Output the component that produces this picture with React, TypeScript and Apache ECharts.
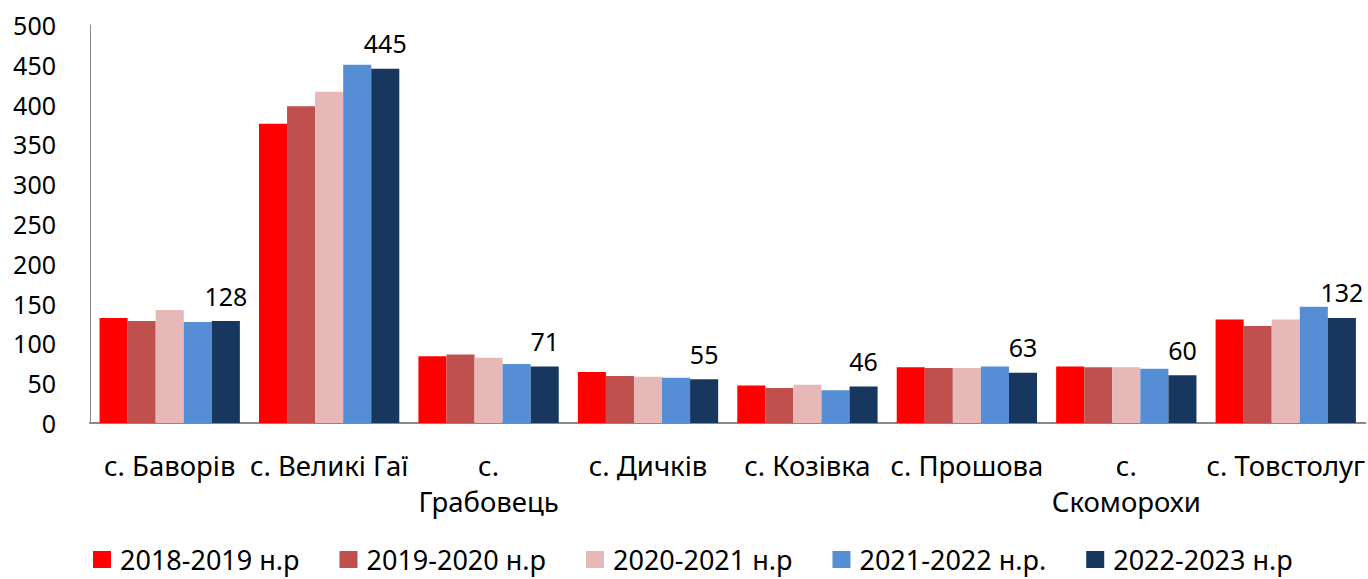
import React, { useEffect, useRef } from "react";
import * as echarts from "echarts";

const categories = [
  "с. Баворів",
  "с. Великі Гаї",
  "с.\nГрабовець",
  "с. Дичків",
  "с. Козівка",
  "с. Прошова",
  "с.\nСкоморохи",
  "с. Товстолуг",
];

const seriesNames = [
  "2018-2019 н.р",
  "2019-2020 н.р",
  "2020-2021 н.р",
  "2021-2022 н.р.",
  "2022-2023 н.р",
];

const y2018 = [132, 376, 84, 64, 47, 70, 71, 130];
const y2019 = [128, 398, 86, 59, 44, 69, 70, 122];
const y2020 = [142, 416, 82, 58, 48, 69, 70, 130];
const y2021 = [127, 450, 74, 57, 41, 71, 68, 146];
const y2022 = [128, 445, 71, 55, 46, 63, 60, 132];

const colors = ["#FF0000", "#C0504D", "#E6B9B8", "#558ED5", "#17375E"];

const yTicks = { min: 0, max: 500, interval: 50 };

const FONT = "'Noto Sans', sans-serif";

export default function App() {
  const ref = useRef<HTMLDivElement>(null);

  useEffect(() => {
    document.body.style.margin = "0";
    if (!ref.current) return;
    const chart = echarts.init(ref.current, null, { renderer: "svg" });
    const data = [y2018, y2019, y2020, y2021, y2022];
    chart.setOption({
      animation: false,
      textStyle: { fontFamily: FONT },
      grid: { left: 90, right: 1, top: 25, bottom: 156, containLabel: false },
      legend: {
        left: 88,
        top: 541,
        padding: [5, 5, 2, 5],
        icon: "rect",
        itemWidth: 18,
        itemHeight: 17,
        itemGap: 40,
        textStyle: {
          fontFamily: FONT,
          fontSize: 27,
          lineHeight: 26,
          color: "#000",
          padding: [0, 0, 0, 4],
        },
        data: seriesNames,
      },
      xAxis: {
        type: "category",
        data: categories,
        axisLine: { show: true, lineStyle: { color: "#898989", width: 2 } },
        axisTick: { show: false },
        axisLabel: {
          interval: 0,
          margin: 24,
          fontFamily: FONT,
          fontSize: 27.5,
          lineHeight: 36,
          color: "#000",
        },
      },
      yAxis: {
        type: "value",
        min: yTicks.min,
        max: yTicks.max,
        interval: yTicks.interval,
        axisLine: { show: true, lineStyle: { color: "#898989", width: 1 } },
        axisTick: { show: false },
        splitLine: { show: false },
        axisLabel: {
          margin: 34,
          fontFamily: FONT,
          fontSize: 25,
          color: "#000",
        },
      },
      series: seriesNames.map((name, i) => ({
        name,
        type: "bar",
        data: data[i],
        barGap: "0%",
        barCategoryGap: "12%",
        itemStyle: { color: colors[i] },
        label:
          i === 4
            ? {
                show: true,
                position: "top",
                distance: 13,
                fontFamily: FONT,
                fontSize: 25,
                color: "#000",
              }
            : { show: false },
      })),
    });
    return () => chart.dispose();
  }, []);

  return <div ref={ref} style={{ width: 1368, height: 579 }} />;
}
